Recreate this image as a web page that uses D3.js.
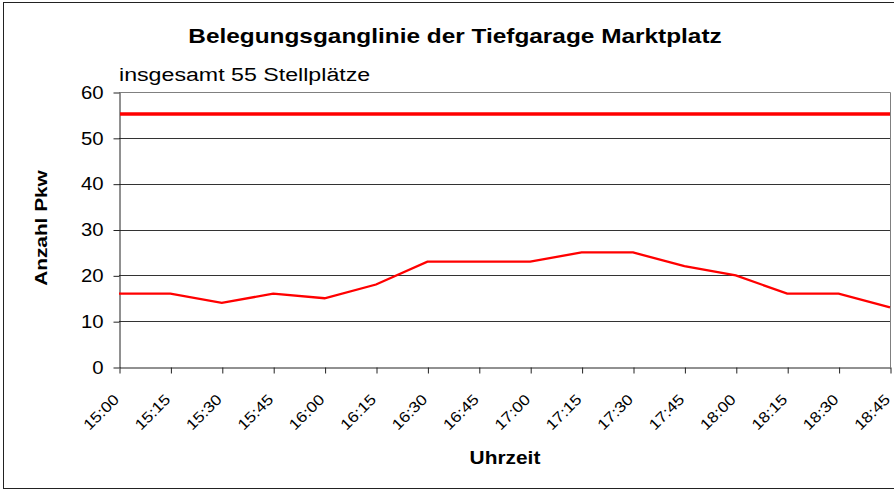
<!DOCTYPE html>
<html>
<head>
<meta charset="utf-8">
<script src="https://cdn.jsdelivr.net/npm/d3@7"></script>
<style>
  body { margin: 0; background: #fff; }
  svg { font-family: "Liberation Sans", Arial, sans-serif; }
</style>
</head>
<body>
<svg id="chart" width="894" height="491"></svg>
<script>
const times = ['15:00', '15:15', '15:30', '15:45', '16:00', '16:15', '16:30', '16:45',
               '17:00', '17:15', '17:30', '17:45', '18:00', '18:15', '18:30', '18:45'];
const occupancy = [16, 16, 14, 16, 15, 18, 23, 23, 23, 25, 25, 22, 20, 16, 16, 13];
const capacity = 55;
const yTicks = [0, 10, 20, 30, 40, 50, 60];

const margin = { left: 119, right: 4, top: 92, bottom: 124 };
const width = 894, height = 491;
const stretch = 1.2; // the original's text is drawn a bit wide

const svg = d3.select('#chart');

// outer chart frame
svg.append('rect')
    .attr('x', 3.5).attr('y', 2.5)
    .attr('width', 900).attr('height', 486)
    .attr('fill', 'none')
    .attr('stroke', '#222');

const x = d3.scalePoint()
    .domain(times)
    .range([margin.left, width - margin.right]);

const y = d3.scaleLinear()
    .domain([0, 60])
    .range([height - margin.bottom, margin.top]);

// gridlines
svg.append('g')
    .selectAll('line')
    .data(yTicks.filter(d => d > 0 && d < 60))
    .join('line')
    .attr('x1', margin.left).attr('x2', width - margin.right)
    .attr('y1', d => Math.round(y(d)) + 0.5).attr('y2', d => Math.round(y(d)) + 0.5)
    .attr('stroke', '#333');

// plot frame top/right
svg.append('path')
    .attr('d', `M${margin.left},${Math.round(y(60)) + 0.5}H${width - margin.right + 0.5}V${Math.round(y(0))}`)
    .attr('fill', 'none')
    .attr('stroke', '#808080');

// y axis
const yAxis = svg.append('g')
    .attr('transform', `translate(${margin.left + 0.5},0.5)`)
    .call(d3.axisLeft(y).tickValues(yTicks).tickSize(6).tickSizeOuter(0));
yAxis.selectAll('line, path').attr('stroke', '#222');
yAxis.selectAll('text')
    .style('font-size', '18px')
    .attr('fill', '#000')
    .attr('x', null)
    .attr('transform', `translate(-16,0) scale(1.13,1)`);

// x axis
const xAxis = svg.append('g')
    .attr('transform', `translate(0.5,${Math.round(y(0)) + 0.5})`)
    .call(d3.axisBottom(x).tickSize(6).tickSizeOuter(0));
xAxis.selectAll('line, path').attr('stroke', '#222');
xAxis.selectAll('text')
    .style('font-size', '15px')
    .attr('fill', '#000')
    .attr('text-anchor', 'end')
    .attr('dy', null)
    .attr('y', 0)
    .attr('transform', 'translate(0,33) rotate(-45) scale(1.15,1)');

// capacity line
svg.append('line')
    .attr('x1', margin.left + 1).attr('x2', width - margin.right)
    .attr('y1', y(capacity) - 1).attr('y2', y(capacity) - 1)
    .attr('stroke', '#ff0000')
    .attr('stroke-width', 3.5);

// occupancy line
svg.append('path')
    .datum(occupancy)
    .attr('d', d3.line().x((d, i) => x(times[i])).y(d => y(d)))
    .attr('fill', 'none')
    .attr('stroke', '#ff0000')
    .attr('stroke-width', 2.3);

// titles
svg.append('text')
    .attr('transform', `translate(455,43) scale(${stretch + 0.02},1)`)
    .attr('text-anchor', 'middle')
    .style('font-size', '20px')
    .style('font-weight', 'bold')
    .text('Belegungsganglinie der Tiefgarage Marktplatz');

svg.append('text')
    .attr('transform', `translate(119,81) scale(${stretch + 0.02},1)`)
    .style('font-size', '19px')
    .text('insgesamt 55 Stellplätze');

svg.append('text')
    .attr('transform', `translate(47,228) rotate(-90) scale(1.26,1)`)
    .attr('text-anchor', 'middle')
    .style('font-size', '16.5px')
    .style('font-weight', 'bold')
    .text('Anzahl Pkw');

svg.append('text')
    .attr('transform', `translate(505,464) scale(1.13,1)`)
    .attr('text-anchor', 'middle')
    .style('font-size', '18.5px')
    .style('font-weight', 'bold')
    .text('Uhrzeit');
</script>
</body>
</html>
